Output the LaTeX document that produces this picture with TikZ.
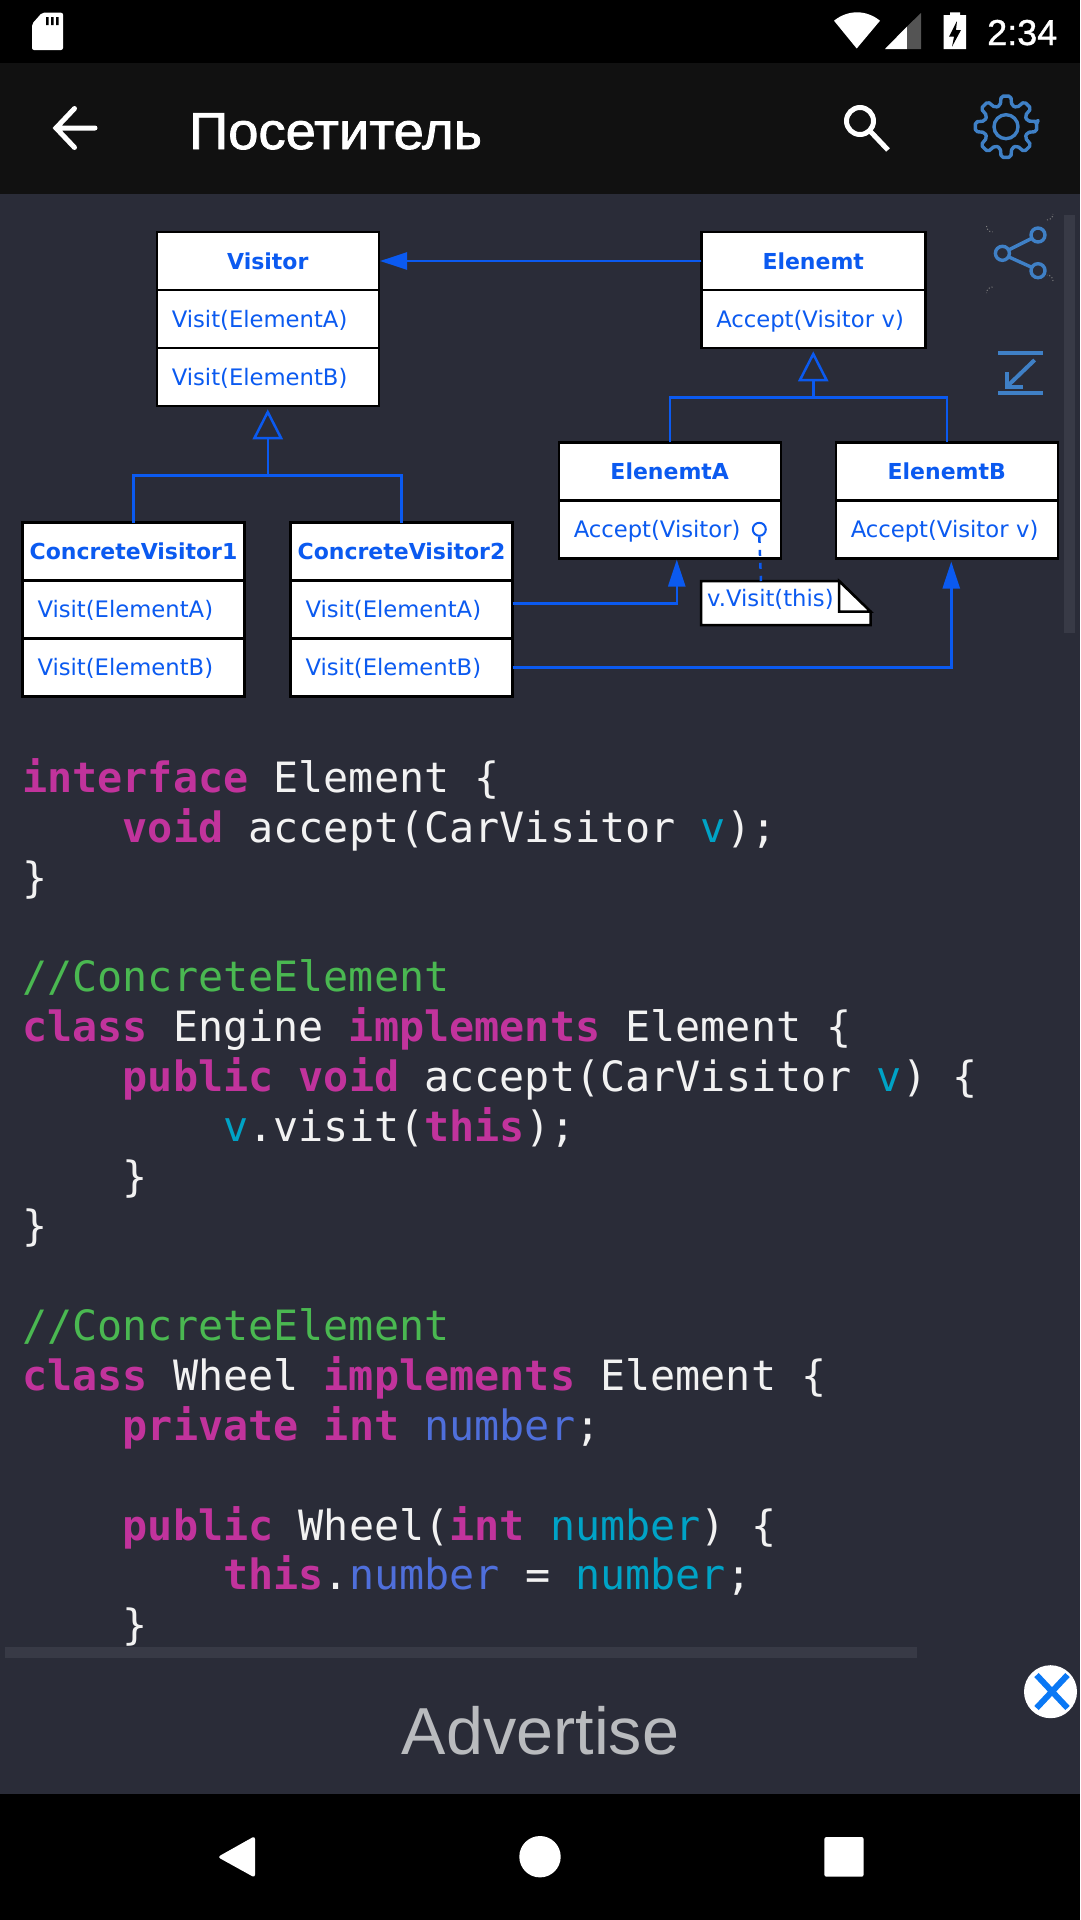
\documentclass[tikz,border=0pt]{standalone}
\usepackage{fontspec}
\setmainfont{Liberation Sans}
\newfontfamily\umlfont{DejaVu Sans}
\newfontfamily\codefont{DejaVu Sans Mono}
\newfontfamily\titlefont[FakeBold=1.6,FakeStretch=1.045]{Liberation Sans}
\newfontfamily\clockfont[FakeBold=1.0]{Liberation Sans}
\usetikzlibrary{arrows.meta}
\definecolor{bgc}{HTML}{2A2C38}
\definecolor{barc}{HTML}{111111}
\definecolor{scrollc}{HTML}{383A46}
\definecolor{iconc}{HTML}{3F80C6}
\definecolor{umlc}{HTML}{0B5AF0}
\definecolor{kwc}{HTML}{C1339C}
\definecolor{whc}{HTML}{F2F2F2}
\definecolor{cmc}{HTML}{4AB851}
\definecolor{pac}{HTML}{00A3C6}
\definecolor{fdc}{HTML}{4F6FDB}
\definecolor{advc}{HTML}{B9BBBE}
\definecolor{closec}{HTML}{0A78F5}
\newcommand\kw[1]{\textcolor{kwc}{\bfseries #1}}
\newcommand\cm[1]{\textcolor{cmc}{#1}}
\newcommand\pa[1]{\textcolor{pac}{#1}}
\newcommand\fd[1]{\textcolor{fdc}{#1}}
\tikzset{
  umlbase/.style={rectangle,draw=black,fill=white,line width=2.5pt,outer sep=0pt,inner ysep=0pt,inner xsep=15pt,
    text width=192pt,minimum height=58pt,text height=21pt,text depth=5pt,text=umlc},
  umltitle/.style={umlbase,inner xsep=0pt,text width=222pt,align=center,font=\umlfont\bfseries\fontsize{22}{26}\selectfont},
  umlrow/.style={umlbase,align=left,font=\umlfont\fontsize{22.7}{26}\selectfont},
  conn/.style={draw=umlc,line width=2.5pt},
  inherit/.style={conn,-{Triangle[open,length=30pt,width=30pt,line width=2.5pt]}},
  assoc/.style={conn,-{Triangle[length=27pt,width=17pt,fill=umlc]}},
  codeline/.style={anchor=base west,inner sep=0pt,text=whc,font=\codefont\fontsize{41.75}{50}\selectfont},
  icon/.style={draw=iconc,line width=3.4pt},
  whiteicon/.style={draw=white,line width=5pt}
}
\begin{document}
\begin{tikzpicture}[x=1pt,y=-1pt]
\useasboundingbox (0,0) rectangle (1080,1920);
% backgrounds
\fill[bgc] (0,0) rectangle (1080,1920);
\fill[black] (0,0) rectangle (1080,63);
\fill[barc] (0,63) rectangle (1080,194);
\fill[black] (0,1794) rectangle (1080,1920);
% status bar
\fill[white,rounded corners=2pt] (32,24) -- (42,12.7) -- (63,12.7) -- (63,50) -- (32,50) -- cycle;
\fill[black] (46,17) rectangle (48.5,25) (51,17) rectangle (53.5,25) (56,17) rectangle (58.5,25);
\fill[white] (856.7,48.5) -- (834,20.7) .. controls (848,9.5) and (866,9.5) .. (880,20.7) -- cycle;
\fill[white] (885,49) -- (907,26.5) -- (907,49) -- cycle;
\fill[white!33!black] (907,26.5) -- (921,13) -- (921,49) -- (907,49) -- cycle;
\fill[white] (950,12.3) rectangle (960,15) (943.5,15) rectangle (966,49);
\fill[black] (957,21) -- (949,36.7) -- (954,36.7) -- (952,46.7) -- (961,30) -- (956,30) -- cycle;
\node[anchor=base west,inner sep=0pt,text=white,font=\clockfont\fontsize{36}{40}\selectfont] (clock) at (987,45) {2:34};
% toolbar
\draw[whiteicon,line cap=round,line join=miter] (74.5,108.5) -- (56,128) -- (74.5,147.5) (56,128) -- (95,128);
\node[anchor=base west,inner sep=0pt,text=white,font=\titlefont\fontsize{52}{56}\selectfont] (title) at (189,149) {Посетитель};
\draw[whiteicon] (860,121) circle (13.5pt);
\draw[whiteicon] (870,131) -- (888,150);
\draw[icon,line join=round,rounded corners=2pt] (1037,121.5)
  \foreach \a in {0,45,...,315} {
    -- ({1006+31*cos(\a-9)},{126.7+31*sin(\a-9)})
    -- ({1006+31*cos(\a+9)},{126.7+31*sin(\a+9)})
    -- ({1006+22*cos(\a+15)},{126.7+22*sin(\a+15)})
    -- ({1006+22*cos(\a+30)},{126.7+22*sin(\a+30)})
  } -- cycle;
\draw[icon] (1006,126.7) circle (12pt);
% UML: Visitor
\node[umltitle] (vist) at (267.75,261) {Visitor};
\node[umlrow]   (visa) at (267.75,319) {Visit(ElementA)};
\node[umlrow]   (visb) at (267.75,377) {Visit(ElementB)};
% ConcreteVisitor1
\node[umltitle] (cvat) at (133.5,551.7) {ConcreteVisitor1};
\node[umlrow]   (cvaa) at (133.5,609.7) {Visit(ElementA)};
\node[umlrow]   (cvab) at (133.5,667.7) {Visit(ElementB)};
% ConcreteVisitor2
\node[umltitle] (cvbt) at (401.5,551.7) {ConcreteVisitor2};
\node[umlrow]   (cvba) at (401.5,609.7) {Visit(ElementA)};
\node[umlrow]   (cvbb) at (401.5,667.7) {Visit(ElementB)};
% Elenemt
\node[umltitle,text width=224pt] (elt) at (813.25,261) {Elenemt};
\node[umlrow,text width=194pt]   (elm) at (813.25,319) {Accept(Visitor v)};
% ElenemtA
\node[umltitle] (eat) at (669.75,471.3) {ElenemtA};
\node[umlrow]   (eam) at (669.75,529.3) {Accept(Visitor)};
% ElenemtB
\node[umltitle] (ebt) at (946.75,471.3) {ElenemtB};
\node[umlrow]   (ebm) at (946.75,529.3) {Accept(Visitor v)};
% note
\fill[white,draw=black,line width=2.5pt] (701,581) -- (839,581) -- (870.7,611.7) -- (870.7,625) -- (701,625) -- cycle;
\draw[black,line width=2.5pt,fill=white] (839,581) -- (839,611.7) -- (870.7,611.7) -- cycle;
\node[anchor=base west,inner sep=0pt,text=umlc,font=\umlfont\fontsize{22.7}{26}\selectfont] (note) at (707,606.7) {v.Visit(this)};
\coordinate (notepin) at (761,581);
\node[circle,draw=umlc,line width=2pt,fill=white,minimum size=13pt,inner sep=0pt] (pin) at (759.3,529.3) {};
\draw[draw=umlc,line width=2.5pt,dash pattern=on 6pt off 7pt] (pin.south) -- (notepin);
% connectors
\coordinate (ja) at (267.75,475.7);
\coordinate (jb) at (813.25,397.3);
\draw[conn] (cvat.north) |- (ja) -| (cvbt.north);
\draw[inherit] (ja) -- ([yshift=-3.25pt]visb.south);
\draw[conn] (eat.north) |- (jb) -| (ebt.north);
\draw[inherit] (jb) -- ([yshift=-3.25pt]elm.south);
\draw[assoc] (elt.west) -- ([xshift=1.25pt]vist.east);
\draw[assoc] ([yshift=6pt]cvba.east) -| ([xshift=7pt,yshift=-1.25pt]eam.south);
\draw[assoc] (cvbb.east) -| ([xshift=4.5pt,yshift=-3.25pt]ebm.south);
% share and collapse icons
\draw[icon] (1038,235) circle (7pt) (1002.4,253.3) circle (7pt) (1038,270.7) circle (7pt);
\draw[icon] (1008.5,250) -- (1031.5,238.5) (1008.5,256.8) -- (1031.5,267.2);
\draw[gray,line width=1pt,dotted] (986.5,226) arc (180:270:6pt) (1047,220) arc (270:360:6pt) (1053,281) arc (0:90:6pt) (992.5,287) arc (90:180:6pt);
\draw[icon,line width=4pt] (998,353.3) -- (1042.7,353.3) (998,393.3) -- (1042.7,393.3);
\draw[icon,line width=4pt] (1034.6,360) -- (1008,385.5);
\draw[icon,line width=4pt] (1007,372) -- (1007,386.7) -- (1023,386.7);
% scrollbar
\fill[scrollc] (1064,215) rectangle (1074.5,633);
% code
\node[codeline] (c0)  at (22,792.3)  {\kw{interface} Element \{};
\node[codeline] (c1)  at (122.6,842.15) {\kw{void} accept(CarVisitor \pa{v});};
\node[codeline] (c2)  at (22,892)    {\}};
\node[codeline] (c4)  at (22,991.7)  {\cm{//ConcreteElement}};
\node[codeline] (c5)  at (22,1041.55){\kw{class} Engine \kw{implements} Element \{};
\node[codeline] (c6)  at (122.6,1091.4) {\kw{public} \kw{void} accept(CarVisitor \pa{v}) \{};
\node[codeline] (c7)  at (223.2,1141.25){\pa{v}.visit(\kw{this});};
\node[codeline] (c8)  at (122.6,1191.1) {\}};
\node[codeline] (c9)  at (22,1240.95){\}};
\node[codeline] (c11) at (22,1340.65){\cm{//ConcreteElement}};
\node[codeline] (c12) at (22,1390.5) {\kw{class} Wheel \kw{implements} Element \{};
\node[codeline] (c13) at (122.6,1440.35){\kw{private} \kw{int} \fd{number};};
\node[codeline] (c15) at (122.6,1540.05){\kw{public} Wheel(\kw{int} \pa{number}) \{};
\node[codeline] (c16) at (223.2,1589.9) {\kw{this}.\fd{number} = \pa{number};};
\node[codeline] (c17) at (122.6,1639.75){\}};
% horizontal scrollbar
\fill[scrollc] (5,1646.7) rectangle (917,1658);
% ad
\node[anchor=base,inner sep=0pt,text=advc,font=\fontsize{66.5}{70}\selectfont] (adv) at (540.5,1754) {Advertise};
\fill[white] (1050.5,1691.7) circle (26.5pt);
\draw[closec,line width=6pt] (1036.5,1675) -- (1067.5,1708) (1067.5,1675) -- (1036.5,1708);
% nav bar
\fill[white,rounded corners=3pt] (255,1836) -- (217.6,1857) -- (255,1877.7) -- cycle;
\fill[white] (540,1856.7) circle (20.7pt);
\fill[white,rounded corners=2pt] (824.4,1837) rectangle (863.6,1876.7);
\end{tikzpicture}
\end{document}
